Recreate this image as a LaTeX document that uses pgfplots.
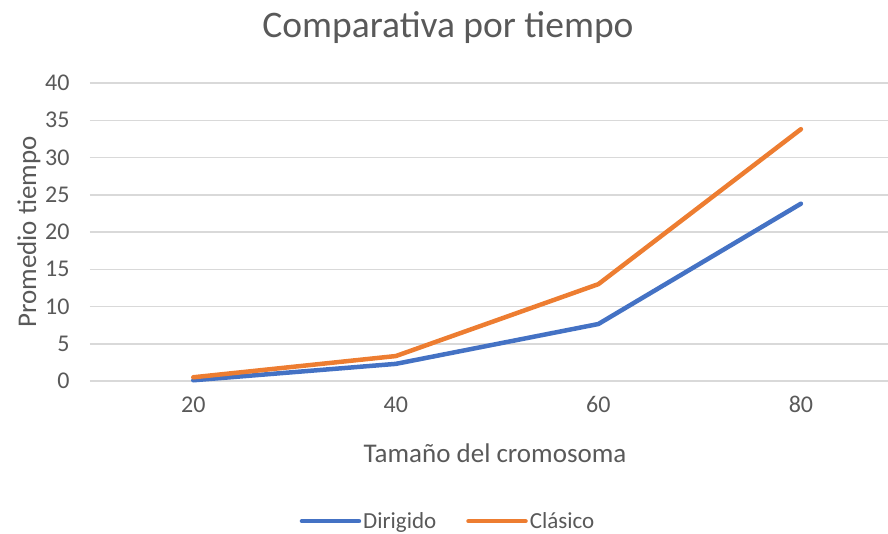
\documentclass[border=0pt]{standalone}
\usepackage{pgfplots}
\pgfplotsset{compat=1.18}
\usepackage{fontspec}
\setmainfont{Carlito}
\definecolor{txt}{HTML}{595959}
\definecolor{grd}{HTML}{D9D9D9}
\definecolor{cblue}{HTML}{4472C4}
\definecolor{corange}{HTML}{ED7D31}
\begin{document}
\begin{tikzpicture}
\useasboundingbox (-90pt,-152pt) rectangle (798pt,381pt);
\begin{axis}[
  at={(0pt,0pt)}, anchor=south west,
  scale only axis, width=798pt, height=298pt,
  xmin=9.8, xmax=88.6, ymin=0, ymax=40,
  xtick={20,40,60,80}, ytick={0,5,...,40},
  axis line style={draw=none},
  major tick length=0pt,
  ymajorgrids, grid style={grd, line width=1.5pt},
  tick label style={font=\fontsize{24}{28}\selectfont, text=txt},
  /pgf/number format/assume math mode=true,
  yticklabel style={xshift=-17pt},
  xticklabel style={yshift=-12pt},
  clip=false,
  legend style={at={(0.4486,-0.47)}, anchor=center, draw=none, fill=none,
    font=\fontsize{23}{28}\selectfont, text=txt, legend columns=2,
    inner xsep=0pt,
    /tikz/every even column/.append style={column sep=28pt}},
  legend image code/.code={\draw[#1, line width=4.5pt, line cap=round] (0pt,0pt) -- (57pt,0pt);},
]
\addplot[cblue, line width=4.5pt, line cap=round, line join=round] coordinates {(20,0.1) (40,2.3) (60,7.65) (80,23.8)};
\addlegendentry{Dirigido}
\addplot[corange, line width=4.5pt, line cap=round, line join=round] coordinates {(20,0.5) (40,3.35) (60,13.0) (80,33.8)};
\addlegendentry{Clásico}
\end{axis}
\node[text=txt, font=\fontsize{37.5}{42}\selectfont] at (358pt,353pt) {Comparativa por tiempo};
\node[text=txt, font=\fontsize{27}{30}\selectfont, rotate=90] at (-61pt,149pt) {Promedio tiempo};
\node[text=txt, font=\fontsize{27}{30}\selectfont] at (405pt,-72pt) {Tamaño del cromosoma};
\end{tikzpicture}
\end{document}
